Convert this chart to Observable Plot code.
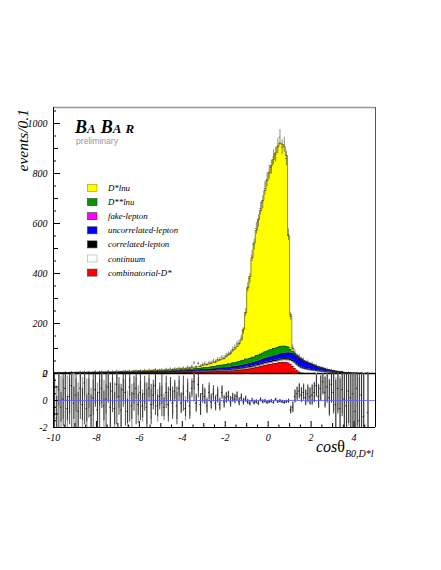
<!DOCTYPE html>
<html><head><meta charset="utf-8">
<script src="https://cdn.jsdelivr.net/npm/d3@7"></script>
<script src="https://cdn.jsdelivr.net/npm/@observablehq/plot@0.6"></script>
<style>
body{margin:0;background:#fff;}
#wrap{position:relative;width:441px;height:570px;overflow:hidden;background:#fff;}
</style></head><body><div id="wrap"></div>
<script>
// ---- binning (events / 0.1 in cos theta) ----
const BIN_START = -10, BIN_WIDTH = 0.1;
const COMPONENTS = ["combinatorial-D*","continuum","correlated-lepton","uncorrelated-lepton","fake-lepton","D**lnu","D*lnu"];
const COLORS = ["#ff0000","#ffffff","#000000","#0000ff","#ff00ff","#009900","#ffff00"];
const LEGEND_ORDER = ["D*lnu","D**lnu","fake-lepton","uncorrelated-lepton","correlated-lepton","continuum","combinatorial-D*"];
const X_TICKS = [-10,-8,-6,-4,-2,0,2,4];
const Y_TICKS = [0,200,400,600,800,1000];
const RES_TICKS = [-2,0,2];

const COMB_DSTAR = [
1,0,1,1,0,1,1,1,1,1, 1,1,1,1,1,1,1,1,1,1, 1,1,1,1,1,1,1,1,1,1, 1,1,1,1,1,1,1,2,1,2,
2,2,2,2,2,2,2,2,2,2, 2,2,3,3,3,3,3,3,3,4, 4,4,4,4,5,5,5,5,5,6, 6,6,6,7,7,7,8,8,8,9,
9,10,10,11,11,12,13,14,15,16, 17,19,20,22,24,26,28,30,32,34, 36,37,39,40,42,44,45,45,44,42,
36,28,20,12,6,2,1,0,0,0, 0,0,0,0,0,0,0,0,0,0, 0,0,0,0,0,0,0,0,0,0, 0,0,0,0,0,0,0,0,0,0];
const CONTINUUM = [
0,0,0,0,0,0,0,0,0,0, 0,0,0,0,0,0,0,0,0,0, 0,0,0,0,0,1,0,0,0,0, 0,1,0,0,1,0,0,1,0,1,
1,0,1,1,0,1,1,0,1,1, 1,1,1,1,1,1,1,1,1,1, 1,1,1,2,1,2,2,2,2,2, 2,2,2,2,2,3,3,3,3,3,
3,3,3,4,3,4,4,4,4,5, 5,5,5,5,6,6,6,6,7,7, 7,7,8,8,8,9,9,10,10,12,
16,20,22,22,21,20,18,17,15,14, 12,11,10,9,8,7,6,5,5,4, 3,3,2,2,2,1,1,1,1,0, 0,0,0,0,0,0,0,0,0,0];
const CORRELATED = [
1,0,1,1,1,0,1,1,1,1, 1,1,1,1,1,1,1,1,1,1, 1,1,1,1,1,1,1,1,1,1, 1,1,1,1,1,1,1,1,1,1,
1,1,1,1,1,1,1,1,1,1, 1,1,1,1,1,2,1,2,2,2, 2,2,2,2,2,2,2,2,2,2, 2,2,2,2,2,2,3,3,3,3,
3,3,3,3,3,3,3,4,4,4, 4,4,4,4,4,4,4,5,5,5, 5,5,5,5,5,5,5,5,5,5,
5,5,4,4,4,4,3,3,3,3, 3,3,2,2,2,2,2,1,1,1, 1,1,1,1,1,1,0,0,0,0, 0,0,0,0,0,0,0,0,0,0];
const UNCORRELATED = [
0,1,0,0,1,1,0,1,0,1, 1,1,1,1,1,1,1,1,1,1, 1,1,1,1,1,1,1,1,2,1, 2,2,2,2,2,2,2,2,2,2,
2,2,2,2,3,3,3,3,3,3, 3,3,3,3,3,4,4,4,4,4, 4,4,4,5,5,5,5,5,6,6, 6,6,6,7,7,7,7,8,8,8,
8,9,9,9,10,10,10,11,11,12, 12,12,13,13,14,14,15,15,16,16, 17,17,18,18,19,20,20,21,22,23,
24,26,28,30,30,30,28,26,24,22, 20,18,16,15,13,12,10,9,8,7, 6,5,4,3,3,2,2,2,1,1, 1,1,0,1,0,0,0,0,0,0];
const FAKE = [
0,0,0,0,0,0,0,0,0,0, 0,0,0,0,0,0,0,0,0,0, 0,0,0,0,0,0,0,0,0,0, 0,0,0,0,0,0,0,0,0,0,
0,0,0,0,0,0,0,0,0,0, 0,0,0,0,0,0,0,0,0,0, 0,0,0,0,0,0,0,0,0,0, 0,0,0,0,0,0,0,0,0,0,
0,0,0,1,0,0,1,0,0,1, 0,0,1,0,1,0,1,1,1,1, 1,1,1,1,1,1,1,1,1,1,
1,1,0,0,0,0,0,0,0,0, 0,0,0,0,0,0,0,0,0,0, 0,0,0,0,0,0,0,0,0,0, 0,0,0,0,0,0,0,0,0,0];
const DSS_LNU = [
0,0,1,0,0,1,0,0,1,0, 0,1,0,1,0,1,1,0,1,1, 1,1,1,1,1,1,1,1,1,1, 1,1,1,1,2,1,2,1,2,2,
2,2,2,2,2,2,2,3,3,3, 3,3,3,3,3,3,4,4,4,4, 4,4,5,5,5,5,6,6,6,7, 8,8,9,9,10,10,11,11,12,12,
13,14,14,15,16,17,17,18,19,20, 20,21,22,22,23,24,24,25,26,27, 28,29,29,30,30,30,29,28,26,23,
14,8,4,3,2,2,1,1,1,1, 1,1,0,0,0,0,0,0,0,0, 0,0,0,0,0,0,0,0,0,0, 0,0,0,0,0,0,0,0,0,0];
const DS_LNU = [
0,1,0,1,1,0,1,1,1,1, 1,1,1,1,1,1,1,2,1,2, 1,2,2,2,2,2,2,3,2,3, 2,2,2,3,2,3,3,2,3,2,
2,3,3,3,3,3,3,3,3,3, 3,3,4,4,4,3,4,4,4,4, 4,5,5,5,6,6,7,7,8,9, 11,12,13,14,16,17,19,21,23,25,
32,36,42,48,55,62,72,84,124,184, 284,327,398,456,500,543,574,610,645,682, 708,736,757,780,802,813,808,797,764,445,
139,12,2,2,2,2,1,1,1,1, 1,1,1,1,0,1,0,1,0,0, 0,0,0,0,0,0,0,0,0,0, 0,0,0,0,0,0,0,0,0,0];

const DATA = [
3,1,4,2,3,5,2,4,6,3, 5,3,6,4,7,4,6,3,5,8, 4,7,8,5,6,9,5,8,6,10, 8,6,9,10,7,11,8,10,12,9,
12,9,13,10,14,11,13,16,12,14, 15,12,17,14,18,15,19,17,21,18, 22,18,25,21,29,42,26,40,29,36, 40,35,43,42,50,47,56,56,64,62,
72,78,82,96,104,118,122,142,170,244, 345,380,470,515,580,610,660,685,740,775, 805,825,865,875,910,945,905,915,860,555,
228,104,84,70,68,57,55,46,47,39, 39,32,31,25,24,20,19,17,13,14, 11,8,8,5,7,4,3,4,2,2, 1,2,1,1,0,1,4,0,0,0];
const DATA_ERR = [
1.7,1,2,1.4,1.7,2.2,1.4,2,2.4,1.7, 2.2,1.7,2.4,2,2.6,2,2.4,1.7,2.2,2.8, 2,2.6,2.8,2.2,2.4,3,2.2,2.8,2.4,3.2, 2.8,2.4,3,3.2,2.6,3.3,2.8,3.2,3.5,3,
3.5,3,3.6,3.2,3.7,3.3,3.6,4,3.5,3.7, 3.9,3.5,4.1,3.7,4.2,3.9,4.4,4.1,4.6,4.2, 4.7,4.2,5,4.6,5.4,6.5,5.1,6.3,5.4,6,
6.3,5.9,6.6,6.5,7.1,6.9,7.5,7.5,8,7.9,
8.5,8.8,9.1,9.8,10.2,10.9,11,11.9,13,15.6, 18.6,19.5,21.7,22.7,24.1,24.7,25.7,26.2,27.2,27.8, 28.4,28.7,29.4,29.6,30.2,30.7,30.1,30.2,29.3,23.6,
15.1,10.2,9.2,8.4,8.2,7.5,7.4,6.8,6.9,6.2, 6.2,5.7,5.6,5,4.9,4.5,4.4,4.1,3.6,3.7, 3.3,2.8,2.8,2.2,2.6,2,1.7,2,1.4,1.4, 1,1.4,1,1,0,1,2,0,0,0];

// ---- lower panel: residuals ----
const RESIDUAL = [
0.2,-1.3,0.8,-0.5,0.1,0.9,-0.6,0.3,1.1,-0.2, 0.4,-0.8,0.9,-0.3,1.3,-0.6,0.5,-1.1,0.2,0.8,
-0.7,0.6,0.9,-0.4,0.1,1.0,-0.5,0.7,-0.6,1.2, 0.3,-0.7,0.8,0.6,-0.8,1.0,-0.4,0.5,0.9,-0.3,
0.6,-0.4,0.5,-0.5,0.9,-0.3,0.4,1.1,-0.4,0.3, 0.4,-0.5,0.6,-0.3,0.8,-0.2,0.7,-0.4,0.9,-0.2,
0.5,-0.6,0.7,-0.4,0.9,1.4,-0.2,1.2,-0.3,0.5, 0.3,-0.4,0.6,-0.1,0.5,-0.2,0.4,-0.3,0.6,-0.1,
0.2,0.3,-0.1,0.2,0.1,0.3,-0.1,0.2,-0.1,0.1, -0.1,-0.2,0.0,-0.15,-0.1,-0.2,0.05,-0.1,-0.05,-0.15,
-0.1,-0.05,-0.15,0.05,-0.1,-0.05,-0.1,-0.15,-0.1,-0.05, -0.7,-0.5,0.3,0.5,0.7,0.4,0.6,0.2,0.5,0.3,
0.4,0.6,1.1,0.3,0.9,1.4,0.6,1.0,0.2,1.2, 0.6,-0.3,0.9,-0.6,0.8,0.1,-0.4,0.7,0.2,0.5,
-0.8,0.9,-1.5,0.4,-1.2,0.0,-0.9,0,0,0];
const RES_ERR_DATA = [
3.2,1.6,3.8,1.1,2.0,3.5,0.9,2.1,3.6,1.2, 2.9,1.4,2.3,1.2,3.1,1.0,1.8,1.5,3.4,1.3,
1.3,2.9,1.5,1.1,2.7,1.2,1.8,1.6,1.2,3.0, 1.4,1.9,1.3,2.5,0.9,2.6,1.0,1.3,2.7,0.8,
2.1,0.9,1.3,1.8,1.0,1.5,1.1,2.2,0.8,1.0, 1.6,0.7,1.2,1.3,0.9,1.2,0.8,1.4,0.9,0.7,
1.3,0.6,0.9,1.0,0.7,1.5,0.6,1.0,0.8,0.7, 0.6,0.5,0.7,0.5,0.6,0.5,0.6,0.4,0.5,0.4,
0.4,0.35,0.4,0.3,0.35,0.3,0.3,0.25,0.25,0.2, 0.2,0.2,0.18,0.17,0.16,0.15,0.15,0.14,0.14,0.13,
0.13,0.13,0.12,0.12,0.12,0.12,0.12,0.12,0.12,0.15, 0.25,0.4,0.45,0.5,0.5,0.55,0.55,0.6,0.6,0.65,
0.7,0.75,0.8,0.9,0.9,1.0,1.1,1.2,1.3,1.4, 1.6,1.8,1.9,2.2,2.0,2.5,2.8,2.4,3.0,3.2,
3.4,2.8,3.5,3.0,3.6,0,3.5,0,0,0];
const RES_ERR_MC = [
1.4,2.4,1.2,2.3,1.5,1.0,2.4,1.3,1.1,2.2, 1.2,2.1,1.1,2.0,1.0,2.2,1.1,2.0,1.3,1.1,
2.0,1.0,1.2,1.9,1.1,1.0,1.8,1.0,1.9,1.1, 0.9,1.6,0.8,0.9,1.5,0.7,1.6,0.8,0.8,1.4,
0.8,1.2,0.8,1.3,0.7,1.1,0.8,0.7,1.2,0.7, 0.7,1.0,0.7,0.9,0.6,0.9,0.6,1.0,0.6,0.8,
0.6,0.9,0.6,0.8,0.5,0.6,0.7,0.5,0.8,0.5, 0.5,0.6,0.5,0.6,0.4,0.6,0.4,0.5,0.4,0.5,
0.35,0.4,0.3,0.35,0.3,0.35,0.25,0.3,0.2,0.25, 0.14,0.18,0.12,0.16,0.11,0.15,0.1,0.14,0.1,0.12,
0.1,0.12,0.1,0.12,0.1,0.12,0.1,0.12,0.1,0.14, 0.3,0.35,0.5,0.45,0.6,0.5,0.65,0.55,0.7,0.6,
0.8,0.7,0.9,0.8,1.0,0.9,1.2,1.1,1.4,1.3, 1.4,2.0,1.7,2.4,1.8,2.7,2.5,2.6,2.8,3.0,
3.0,3.1,3.2,3.4,3.3,0,3.2,0,0,0];

// ---- build tables ----
const centers = DATA.map((_, i) => BIN_START + BIN_WIDTH * (i + 0.5));
const SERIES = [COMB_DSTAR, CONTINUUM, CORRELATED, UNCORRELATED, FAKE, DSS_LNU, DS_LNU];
const stackRows = [];
SERIES.forEach((arr, k) => arr.forEach((v, i) => stackRows.push({x: centers[i], y: v, comp: COMPONENTS[k]})));
const points = DATA.map((n, i) => ({x: centers[i], n, e: DATA_ERR[i]})).filter(d => d.n > 0);
const resRows = RESIDUAL.map((r, i) => ({x: centers[i], r, ed: RES_ERR_DATA[i], em: RES_ERR_MC[i]})).filter(d => d.ed > 0);

// layout constants
const W = 441, ML = 53, MR = 66;
const PXX = (W - ML - MR) / 15;           // px per unit of cos
const clampR = v => Math.max(-2.3, Math.min(2.3, v));
const serif = "'Liberation Serif','Times New Roman',serif";
const baseStyle = {fontFamily: serif, fontStyle: "italic", fontSize: "10px", background: "transparent", position: "absolute", left: "0px", overflow: "visible"};

const yMax = 1064;
const mainPlot = Plot.plot({
  width: W, height: 380, marginTop: 107, marginBottom: 7, marginLeft: ML, marginRight: MR,
  style: {...baseStyle, top: "0px"},
  x: {domain: [-10, 5], axis: null},
  y: {domain: [0, yMax], ticks: Y_TICKS, tickSize: 0, tickPadding: 6, tickFormat: d => String(d), label: null},
  color: {domain: COMPONENTS, range: COLORS},
  marks: [
    Plot.areaY(stackRows, {x: "x", y: "y", z: "comp", fill: "comp", curve: "step"}),
    Plot.lineY(stackRows, Plot.stackY2({x: "x", y: "y", z: "comp", stroke: "#1a1a1a", strokeWidth: 0.5, curve: "step"})),
    Plot.ruleX(points, {x: "x", y1: d => d.n - d.e, y2: d => d.n + d.e, stroke: "#333", strokeWidth: 0.55}),
    Plot.ruleY(points, {y: "n", x1: d => d.x - 0.035, x2: d => d.x + 0.035, stroke: "#333", strokeWidth: 0.6}),
    // frame
    Plot.ruleY([yMax], {x1: -10, x2: 5, stroke: "#999", strokeWidth: 1.5}),
    Plot.ruleX([5], {y1: 0, y2: yMax, stroke: "#555", strokeWidth: 1}),
    Plot.ruleX([-10], {y1: 0, y2: yMax, stroke: "#000", strokeWidth: 1}),
    // inward y ticks
    Plot.ruleY(d3.range(0, 1001, 200), {y: d => d, x1: -10, x2: -10 + 7 / PXX, stroke: "#000"}),
    Plot.ruleY(d3.range(100, 1001, 200), {y: d => d, x1: -10, x2: -10 + 5 / PXX, stroke: "#000"}),
    Plot.ruleY(d3.range(50, 1051, 100), {y: d => d, x1: -10, x2: -10 + 3 / PXX, stroke: "#000"}),
    Plot.ruleY([0], {x1: -10, x2: 5, stroke: "#000", strokeWidth: 1.6})
  ]
});

const resPlot = Plot.plot({
  width: W, height: 97, marginTop: 13, marginBottom: 30, marginLeft: ML, marginRight: MR,
  style: {...baseStyle, top: "360px"},
  x: {domain: [-10, 5], ticks: X_TICKS, tickSize: 0, tickPadding: 6, tickFormat: d => String(d), label: null},
  y: {domain: [-2, 2], ticks: RES_TICKS, tickSize: 0, tickPadding: 6, tickFormat: d => String(d), label: null},
  marks: [
    Plot.ruleX(resRows, {x: "x", y1: d => clampR(d.r - d.em), y2: d => clampR(d.r + d.em), stroke: "#a0a0a0", strokeWidth: 1.3, clip: true}),
    Plot.ruleX(resRows, {x: "x", y1: d => clampR(d.r - d.ed), y2: d => clampR(d.r + d.ed), stroke: "#1c1c1c", strokeWidth: 0.8, clip: true}),
    Plot.ruleY(resRows, {y: "r", x1: d => d.x - 0.035, x2: d => d.x + 0.035, stroke: "#000", strokeWidth: 0.7, clip: true}),
    Plot.ruleY([0], {x1: -10, x2: 5, stroke: "#5b5bff", strokeWidth: 0.8}),
    // frame
    Plot.ruleX([-10], {y1: -2, y2: 2, stroke: "#000"}),
    Plot.ruleX([5], {y1: -2, y2: 2, stroke: "#000"}),
    Plot.ruleY([-2], {x1: -10, x2: 5, stroke: "#000", strokeWidth: 1.2}),
    // ticks
    Plot.ruleY(d3.range(-2, 2.01, 1), {y: d => d, x1: -10, x2: -10 + 5 / PXX, stroke: "#000"}),
    Plot.ruleY(d3.range(-1.5, 2, 1), {y: d => d, x1: -10, x2: -10 + 3 / PXX, stroke: "#000"}),
    Plot.ruleX(d3.range(-10, 5.01, 2), {x: d => d, y1: -2, y2: -2 + 6 / 13.5, stroke: "#000"}),
    Plot.ruleX(d3.range(-9, 5, 2), {x: d => d, y1: -2, y2: -2 + 4 / 13.5, stroke: "#000"}),
    Plot.ruleX(d3.range(-9.5, 5, 1), {x: d => d, y1: -2, y2: -2 + 2.5 / 13.5, stroke: "#000"})
  ]
});

const wrap = document.getElementById("wrap");
wrap.appendChild(mainPlot);
wrap.appendChild(resPlot);

// ---- overlay: titles, logo, legend ----
const NS = "http://www.w3.org/2000/svg";
const ov = document.createElementNS(NS, "svg");
ov.setAttribute("width", W); ov.setAttribute("height", 570);
ov.style.position = "absolute"; ov.style.left = "0px"; ov.style.top = "0px";
function txt(parent, attrs, content) {
  const t = document.createElementNS(NS, "text");
  for (const k in attrs) t.setAttribute(k, attrs[k]);
  if (content != null) t.textContent = content;
  parent.appendChild(t);
  return t;
}
function tspan(parent, attrs, content) {
  const t = document.createElementNS(NS, "tspan");
  for (const k in attrs) t.setAttribute(k, attrs[k]);
  t.textContent = content;
  parent.appendChild(t);
  return t;
}
// y title
txt(ov, {transform: "translate(28,109) rotate(-90)", "text-anchor": "end", "font-family": serif, "font-style": "italic", "font-size": 15.5}, "events/0.1");
// x title
const xt = txt(ov, {x: 316, y: 452, "font-family": serif, "font-size": 16});
tspan(xt, {"font-style": "italic"}, "cos");
tspan(xt, {}, "θ");
tspan(xt, {"font-style": "italic", "font-size": 10, dy: 4.5}, "B0,D*l");
// BaBar logo
const logo = txt(ov, {x: 75, y: 133, "font-family": serif, "font-weight": "bold", "font-style": "italic"});
tspan(logo, {"font-size": 18}, "B");
tspan(logo, {"font-size": 13}, "A");
tspan(logo, {"font-size": 18, dx: 5}, "B");
tspan(logo, {"font-size": 13}, "A");
tspan(logo, {"font-size": 13, dx: 4}, "R");
txt(ov, {x: 76, y: 144, "font-family": "'Liberation Sans',Arial,sans-serif", "font-size": 8.6, fill: "#999"}, "preliminary");
// legend
LEGEND_ORDER.forEach((name, i) => {
  const cy = 188 + i * 14.1;
  const col = COLORS[COMPONENTS.indexOf(name)];
  const r = document.createElementNS(NS, "rect");
  r.setAttribute("x", 87.5); r.setAttribute("y", cy - 3.5);
  r.setAttribute("width", 9.5); r.setAttribute("height", 7);
  r.setAttribute("fill", col);
  r.setAttribute("stroke", name === "continuum" ? "#aaa" : (name === "D*lnu" ? "#999900" : "#333"));
  r.setAttribute("stroke-width", 0.6);
  ov.appendChild(r);
  txt(ov, {x: 108, y: cy + 3, "font-family": serif, "font-style": "italic", "font-size": 8.8}, name);
});
wrap.appendChild(ov);
</script></body></html>
